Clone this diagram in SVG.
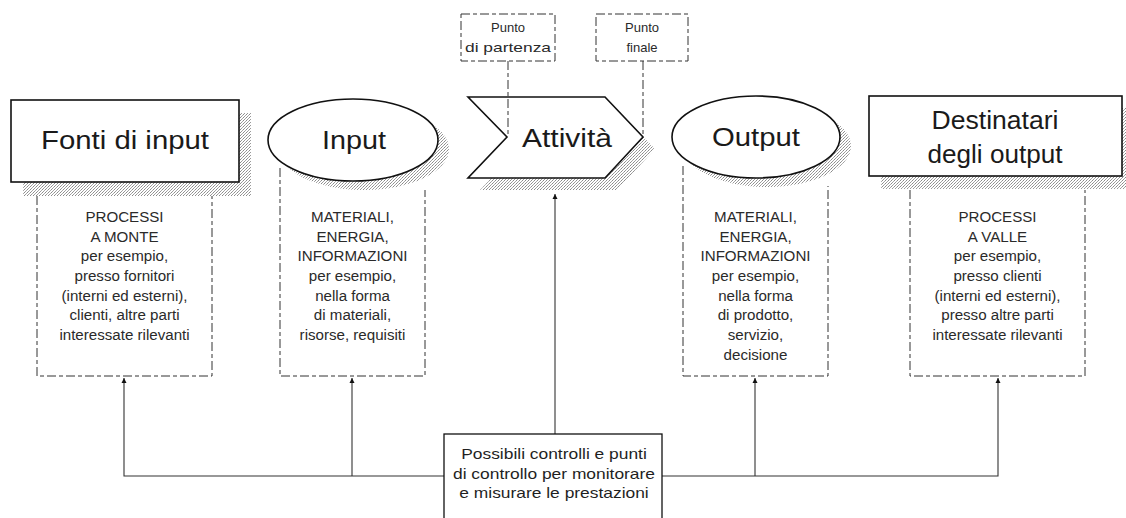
<svg xmlns="http://www.w3.org/2000/svg" width="1126" height="518" viewBox="0 0 1126 518">
<style>
  text { font-family: "Liberation Sans", Arial, sans-serif; fill: #1a1a1a; text-anchor: middle; }
  .big { font-size: 26px; }
  .sm { font-size: 14px; fill: #2a2a2a; }
  .ctl { font-size: 15px; fill: #1f1f1f; }
  .pt { font-size: 13px; fill: #2a2a2a; }
  .shape { fill: #fff; stroke: #111; stroke-width: 1.6; }
  .shadow { fill: url(#stip); stroke: none; }
  .dash { fill: none; stroke: #333; stroke-width: 1; stroke-dasharray: 9 3 4 3; }
  .conn { fill: none; stroke: #333; stroke-width: 1.1; }
  .cbox { fill: #fff; stroke: #111; stroke-width: 1.3; }
</style>
<defs>
  <pattern id="stip" width="3" height="3" patternUnits="userSpaceOnUse">
    <rect width="3" height="3" fill="#fff"/>
    <rect x="0" y="0" width="1" height="1" fill="#8a8a8a"/>
    <rect x="2" y="1" width="1" height="1" fill="#a8a8a8"/>
    <rect x="1" y="2" width="1" height="1" fill="#9a9a9a"/>
  </pattern>
  <marker id="arr" viewBox="0 0 10 10" refX="10" refY="5" markerWidth="5" markerHeight="9" orient="auto" markerUnits="userSpaceOnUse">
    <path d="M0,0 L10,5 L0,10 z" fill="#111"/>
  </marker>
</defs>

<rect width="1126" height="518" fill="#fff"/>

<!-- Fonti di input -->
<g id="fonti">
  <rect class="shadow" x="23" y="113" width="228" height="83"/>
  <rect class="shape" x="11" y="100" width="228" height="82"/>
  <text class="big" x="125" y="149" textLength="168" lengthAdjust="spacingAndGlyphs">Fonti di input</text>
</g>
<g id="fonti-det">
  <path class="dash" d="M37,196 V376 H212 V196"/>
  <g transform="translate(124.5,0) scale(1.08,1)">
    <text class="sm" x="0" y="222">PROCESSI</text>
    <text class="sm" x="0" y="242">A MONTE</text>
    <text class="sm" x="0" y="261">per esempio,</text>
    <text class="sm" x="0" y="281">presso fornitori</text>
    <text class="sm" x="0" y="301">(interni ed esterni),</text>
    <text class="sm" x="0" y="320">clienti, altre parti</text>
    <text class="sm" x="0" y="340">interessate rilevanti</text>
  </g>
</g>

<!-- Input -->
<g id="input">
  <ellipse class="shadow" cx="364" cy="149" rx="85" ry="41"/>
  <ellipse class="shape" cx="353" cy="140" rx="85" ry="41"/>
  <text class="big" x="354" y="149" textLength="64" lengthAdjust="spacingAndGlyphs">Input</text>
</g>
<g id="input-det">
  <path class="dash" d="M280,168 V376 H425 V190"/>
  <g transform="translate(352.5,0) scale(1.08,1)">
    <text class="sm" x="0" y="222">MATERIALI,</text>
    <text class="sm" x="0" y="242">ENERGIA,</text>
    <text class="sm" x="0" y="261">INFORMAZIONI</text>
    <text class="sm" x="0" y="281">per esempio,</text>
    <text class="sm" x="0" y="301">nella forma</text>
    <text class="sm" x="0" y="320">di materiali,</text>
    <text class="sm" x="0" y="340">risorse, requisiti</text>
  </g>
</g>

<!-- Attività -->
<g id="attivita">
  <polygon class="shadow" points="480,109 617,109 655,149 617,190 480,190 519,149"/>
  <polygon class="shape" points="468,97 605,97 643,137 605,178 468,178 507,137"/>
  <text class="big" x="567" y="147" textLength="90" lengthAdjust="spacingAndGlyphs">Attività</text>
</g>

<!-- Punto di partenza / finale -->
<g id="punto-partenza">
  <rect class="dash" x="461" y="14" width="94" height="47"/>
  <text class="pt" x="508" y="32">Punto</text>
  <text class="pt" x="508" y="52" textLength="86" lengthAdjust="spacingAndGlyphs">di partenza</text>
</g>
<g id="punto-finale">
  <rect class="dash" x="596" y="14" width="92" height="47"/>
  <text class="pt" x="642" y="32">Punto</text>
  <text class="pt" x="642" y="52">finale</text>
</g>

<!-- Output -->
<g id="output">
  <ellipse class="shadow" cx="767" cy="146" rx="84" ry="41"/>
  <ellipse class="shape" cx="756" cy="137" rx="84" ry="41"/>
  <text class="big" x="756" y="146" textLength="88" lengthAdjust="spacingAndGlyphs">Output</text>
</g>
<g id="output-det">
  <path class="dash" d="M683,166 V376 H828 V186"/>
  <g transform="translate(755.5,0) scale(1.08,1)">
    <text class="sm" x="0" y="222">MATERIALI,</text>
    <text class="sm" x="0" y="242">ENERGIA,</text>
    <text class="sm" x="0" y="261">INFORMAZIONI</text>
    <text class="sm" x="0" y="281">per esempio,</text>
    <text class="sm" x="0" y="301">nella forma</text>
    <text class="sm" x="0" y="320">di prodotto,</text>
    <text class="sm" x="0" y="340">servizio,</text>
    <text class="sm" x="0" y="360">decisione</text>
  </g>
</g>

<!-- Destinatari degli output -->
<g id="destinatari">
  <rect class="shadow" x="881" y="108" width="245" height="81"/>
  <rect class="shape" x="869" y="96" width="253" height="80"/>
  <text class="big" x="995" y="129" textLength="127" lengthAdjust="spacingAndGlyphs">Destinatari</text>
  <text class="big" x="995" y="163" textLength="135" lengthAdjust="spacingAndGlyphs">degli output</text>
</g>
<g id="destinatari-det">
  <path class="dash" d="M910,190 V376 H1085 V190"/>
  <g transform="translate(997.5,0) scale(1.08,1)">
    <text class="sm" x="0" y="222">PROCESSI</text>
    <text class="sm" x="0" y="242">A VALLE</text>
    <text class="sm" x="0" y="261">per esempio,</text>
    <text class="sm" x="0" y="281">presso clienti</text>
    <text class="sm" x="0" y="301">(interni ed esterni),</text>
    <text class="sm" x="0" y="320">presso altre parti</text>
    <text class="sm" x="0" y="340">interessate rilevanti</text>
  </g>
</g>

<!-- Connectors -->
<g id="connectors">
  <path class="dash" d="M508,61 V137"/>
  <path class="dash" d="M643,61 V137"/>
  <path class="conn" d="M444,476 H124 V378" marker-end="url(#arr)"/>
  <path class="conn" d="M352,476 V378" marker-end="url(#arr)"/>
  <path class="conn" d="M555,434 V194" marker-end="url(#arr)"/>
  <path class="conn" d="M662,476 H998 V378" marker-end="url(#arr)"/>
  <path class="conn" d="M755,476 V378" marker-end="url(#arr)"/>
</g>

<!-- Controlli -->
<g id="controlli">
  <rect class="cbox" x="444" y="434" width="218" height="100"/>
  <g transform="translate(554,0) scale(1.16,1)">
    <text class="ctl" x="0" y="459">Possibili controlli e punti</text>
    <text class="ctl" x="0" y="479">di controllo per monitorare</text>
    <text class="ctl" x="0" y="498">e misurare le prestazioni</text>
  </g>
</g>
</svg>
